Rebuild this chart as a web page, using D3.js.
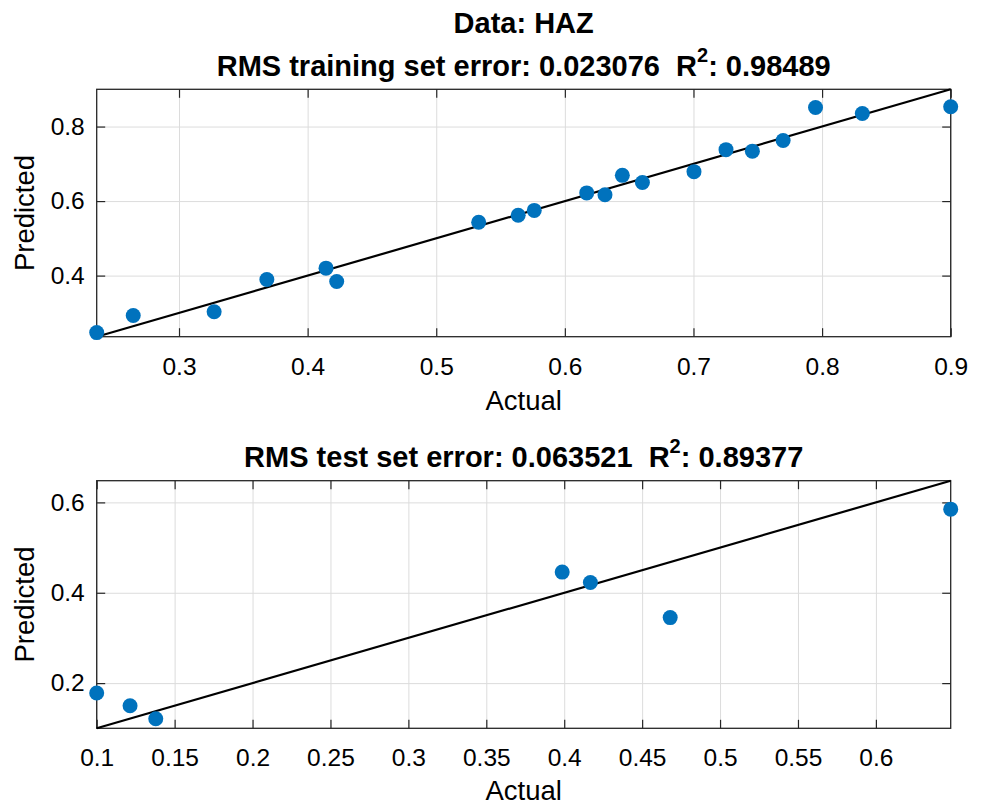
<!DOCTYPE html>
<html>
<head>
<meta charset="utf-8">
<script src="https://cdn.jsdelivr.net/npm/d3@7"></script>
<style>
body { margin: 0; background: #fff; }
text { font-family: "Liberation Sans", Arial, Helvetica, sans-serif; fill: #000; }
</style>
</head>
<body>
<svg id="chart" width="986" height="805"></svg>
<script>
// training set (top panel)
var trainActual = [0.236, 0.2644, 0.3273, 0.3683, 0.4143, 0.4226, 0.533, 0.5637, 0.5762, 0.617,
                   0.6312, 0.6447, 0.6603, 0.7004, 0.7253, 0.7458, 0.7697, 0.7949, 0.8313, 0.9];
var trainPredicted = [0.247, 0.293, 0.303, 0.3895, 0.420, 0.384, 0.543, 0.562, 0.575, 0.622,
                      0.617, 0.669, 0.650, 0.679, 0.738, 0.734, 0.7625, 0.851, 0.835, 0.853];
// test set (bottom panel)
var testActual = [0.1, 0.1214, 0.1379, 0.3987, 0.4168, 0.468, 0.648];
var testPredicted = [0.178, 0.150, 0.121, 0.4457, 0.4227, 0.345, 0.585];

var trainRange = [0.236, 0.9];
var testRange = [0.1, 0.648];
var trainXTicks = [0.3, 0.4, 0.5, 0.6, 0.7, 0.8, 0.9];
var trainYTicks = [0.4, 0.6, 0.8];
var testXTicks = [0.1, 0.15, 0.2, 0.25, 0.3, 0.35, 0.4, 0.45, 0.5, 0.55, 0.6];
var testYTicks = [0.2, 0.4, 0.6];

var trainTitle = [[{t: "Data: HAZ"}],
                  [{t: "RMS training set error: 0.023076  R"}, {t: "2", sup: true}, {t: ": 0.98489"}]];
var testTitle = [[{t: "RMS test set error: 0.063521  R"}, {t: "2", sup: true}, {t: ": 0.89377"}]];

var dotColor = "#0072bd";
var axisColor = "#262626";
var gridColor = "#dcdcdc";
var tickLen = 8.5;

var svg = d3.select("#chart");

function style_axis(sel) {
    sel.select(".domain").remove();
    sel.selectAll(".tick line").attr("stroke", axisColor).attr("stroke-width", 1.2);
    sel.selectAll("text").attr("font-size", 24.5).attr("fill", "#000")
        .style("font-family", '"Liberation Sans", Arial, Helvetica, sans-serif');
}

function draw_panel(opt) {
    var w = opt.width, h = opt.height;
    var g = svg.append("g").attr("transform", "translate(" + opt.left + "," + opt.top + ")");
    var x = d3.scaleLinear().domain(opt.range).range([0, w]);
    var y = d3.scaleLinear().domain(opt.range).range([h, 0]);

    // grid
    g.append("g").attr("transform", "translate(0," + h + ")")
        .call(d3.axisBottom(x).tickValues(opt.xTicks).tickSize(-h).tickFormat(""))
        .call(function (s) { s.select(".domain").remove(); s.selectAll("line").attr("stroke", gridColor); });
    g.append("g")
        .call(d3.axisLeft(y).tickValues(opt.yTicks).tickSize(-w).tickFormat(""))
        .call(function (s) { s.select(".domain").remove(); s.selectAll("line").attr("stroke", gridColor); });

    // ticks on all four sides, pointing in
    g.append("g").attr("transform", "translate(0," + h + ")")
        .call(d3.axisBottom(x).tickValues(opt.xTicks).tickSizeInner(-tickLen).tickSizeOuter(0)
            .tickPadding(20.5).tickFormat(function (d) { return d; }))
        .call(style_axis);
    g.append("g")
        .call(d3.axisTop(x).tickValues(opt.xTicks).tickSizeInner(-tickLen).tickSizeOuter(0).tickFormat(""))
        .call(style_axis);
    g.append("g")
        .call(d3.axisLeft(y).tickValues(opt.yTicks).tickSizeInner(-tickLen).tickSizeOuter(0)
            .tickPadding(12).tickFormat(function (d) { return d; }))
        .call(style_axis);
    g.append("g").attr("transform", "translate(" + w + ",0)")
        .call(d3.axisRight(y).tickValues(opt.yTicks).tickSizeInner(-tickLen).tickSizeOuter(0).tickFormat(""))
        .call(style_axis);

    // box
    g.append("rect").attr("width", w).attr("height", h)
        .attr("fill", "none").attr("stroke", axisColor).attr("stroke-width", 1.3);

    // y = x reference line
    g.append("line")
        .attr("x1", x(opt.range[0])).attr("y1", y(opt.range[0]))
        .attr("x2", x(opt.range[1])).attr("y2", y(opt.range[1]))
        .attr("stroke", "#000").attr("stroke-width", 2.2);

    // points
    g.selectAll("circle.pt").data(opt.xs).enter().append("circle")
        .attr("class", "pt")
        .attr("cx", function (d) { return x(d); })
        .attr("cy", function (d, i) { return y(opt.ys[i]); })
        .attr("r", 7.5)
        .attr("fill", dotColor);

    // labels
    g.append("text").attr("x", w / 2).attr("y", h + opt.xLabelDy)
        .attr("text-anchor", "middle").attr("font-size", 27.5).text("Actual");
    g.append("text").attr("transform", "translate(-63,"+ (h / 2) + ") rotate(-90)")
        .attr("text-anchor", "middle").attr("font-size", 27.5).text("Predicted");

    // title lines, bottom one closest to the box
    var n = opt.title.length;
    opt.title.forEach(function (line, i) {
        var t = g.append("text").attr("x", w / 2).attr("y", -13.5 - (n - 1 - i) * 43)
            .attr("text-anchor", "middle").attr("font-size", 29).attr("font-weight", "bold")
            .style("white-space", "pre");
        line.forEach(function (p) {
            var ts = t.append("tspan").text(p.t);
            if (p.sup) ts.attr("font-size", 20).attr("baseline-shift", "70%");
        });
    });
}

draw_panel({left: 96.7, top: 89.3, width: 854, height: 247.4, range: trainRange,
    xTicks: trainXTicks, yTicks: trainYTicks, xs: trainActual, ys: trainPredicted,
    title: trainTitle, xLabelDy: 73});
draw_panel({left: 96.7, top: 480.7, width: 854, height: 247.6, range: testRange,
    xTicks: testXTicks, yTicks: testYTicks, xs: testActual, ys: testPredicted,
    title: testTitle, xLabelDy: 71.5});
</script>
</body>
</html>
